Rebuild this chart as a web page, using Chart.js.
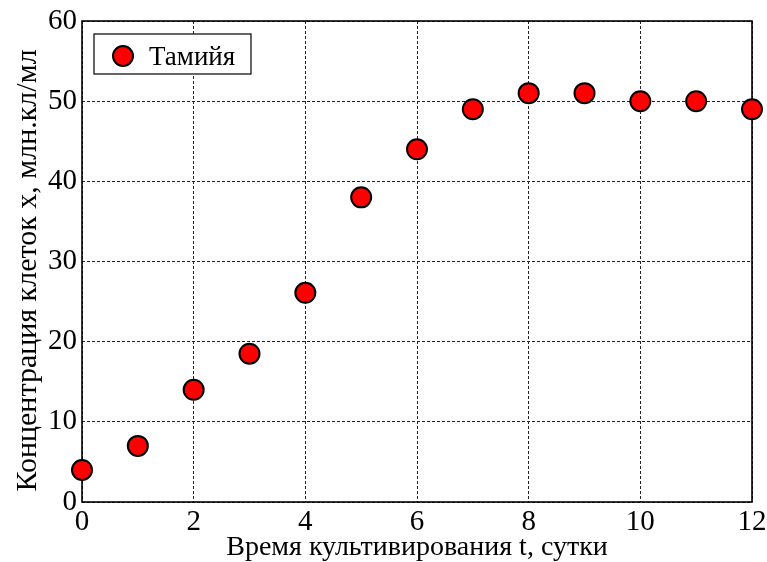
<!DOCTYPE html>
<html>
<head>
<meta charset="utf-8">
<script src="https://cdn.jsdelivr.net/npm/chart.js@4/dist/chart.umd.min.js"></script>
<style>
    html, body { margin: 0; padding: 0; background: #fff; }
    #wrap { width: 767px; height: 562px; }
</style>
</head>
<body>
<div id="wrap"><canvas id="growthChart" width="767" height="562"></canvas></div>
<script>
// Cultivation time, days
const days = [0, 1, 2, 3, 4, 5, 6, 7, 8, 9, 10, 11, 12];
// Cell concentration, mln cells/ml
const cells = [4, 7, 14, 18.5, 26.1, 38, 44, 49, 51, 51, 50, 50, 49];
const seriesName = 'Тамийя';
const xTitle = 'Время культивирования t, сутки';
const yTitle = 'Концентрация клеток x, млн.кл/мл';

const serif = '"Liberation Serif", "Times New Roman", serif';

// Solid box around the plot area
const framePlugin = {
    id: 'frame',
    beforeDatasetsDraw(chart) {
        const { ctx, chartArea: a } = chart;
        ctx.save();
        ctx.strokeStyle = '#000';
        ctx.lineWidth = 1.6;
        ctx.strokeRect(a.left, a.top, a.right - a.left, a.bottom - a.top);
        ctx.restore();
    }
};

// Vertical axis caption, sitting a bit below the middle of the plot
const yCaption = {
    id: 'yCaption',
    afterDraw(chart) {
        const { ctx, chartArea: a } = chart;
        ctx.save();
        ctx.translate(28, (a.top + a.bottom) / 2 + 9);
        ctx.rotate(-Math.PI / 2);
        ctx.fillStyle = '#000';
        ctx.font = '30px ' + serif;
        ctx.textAlign = 'center';
        ctx.textBaseline = 'middle';
        ctx.fillText(yTitle, 0, 0);
        ctx.restore();
    }
};

// Legend box drawn inside the top left corner of the plot
const boxLegend = {
    id: 'boxLegend',
    afterDatasetsDraw(chart) {
        const { ctx, chartArea: a } = chart;
        const ds = chart.data.datasets[0];
        const x = a.left + 12, y = a.top + 13, w = 157, h = 40;
        ctx.save();
        ctx.fillStyle = '#fff';
        ctx.fillRect(x, y, w, h);
        ctx.strokeStyle = '#000';
        ctx.lineWidth = 1.2;
        ctx.strokeRect(x, y, w, h);
        ctx.beginPath();
        ctx.arc(x + 29, y + 22, 10, 0, Math.PI * 2);
        ctx.fillStyle = ds.backgroundColor;
        ctx.fill();
        ctx.lineWidth = 2;
        ctx.stroke();
        ctx.fillStyle = '#000';
        ctx.font = '27px ' + serif;
        ctx.textBaseline = 'alphabetic';
        ctx.fillText(ds.label, x + 55, y + 31);
        ctx.restore();
    }
};

new Chart(document.getElementById('growthChart'), {
    type: 'scatter',
    data: {
        datasets: [{
            label: seriesName,
            data: days.map((d, i) => ({ x: d, y: cells[i] })),
            backgroundColor: '#ff0000',
            borderColor: '#000',
            borderWidth: 2,
            pointRadius: 10,
            pointHoverRadius: 10,
            clip: false
        }]
    },
    options: {
        responsive: false,
        animation: false,
        layout: { padding: { top: 21, right: 15, left: 0, bottom: 0 } },
        plugins: {
            legend: { display: false },
            tooltip: { enabled: false }
        },
        scales: {
            x: {
                type: 'linear',
                min: 0,
                max: 12,
                ticks: {
                    stepSize: 2,
                    color: '#000',
                    padding: 3,
                    maxRotation: 0,
                    font: { family: serif, size: 29 }
                },
                grid: { color: '#222', lineWidth: 1, drawTicks: false },
                border: { display: false, dash: [3, 2] },
                title: {
                    display: true,
                    text: xTitle,
                    color: '#000',
                    font: { family: serif, size: 28, lineHeight: 1 },
                    padding: { top: 0, bottom: 0 }
                },
                afterFit(s) {
                    s.height = 60;
                    s.paddingLeft = s.paddingRight = 0;
                }
            },
            y: {
                min: 0,
                max: 60,
                ticks: {
                    stepSize: 10,
                    color: '#000',
                    padding: 5,
                    font: { family: serif, size: 29 }
                },
                grid: { color: '#222', lineWidth: 1, drawTicks: false },
                border: { display: false, dash: [3, 2] },
                afterFit(s) {
                    s.width = 82;
                    s.paddingTop = s.paddingBottom = 0;
                }
            }
        }
    },
    plugins: [framePlugin, boxLegend, yCaption]
});
</script>
</body>
</html>
